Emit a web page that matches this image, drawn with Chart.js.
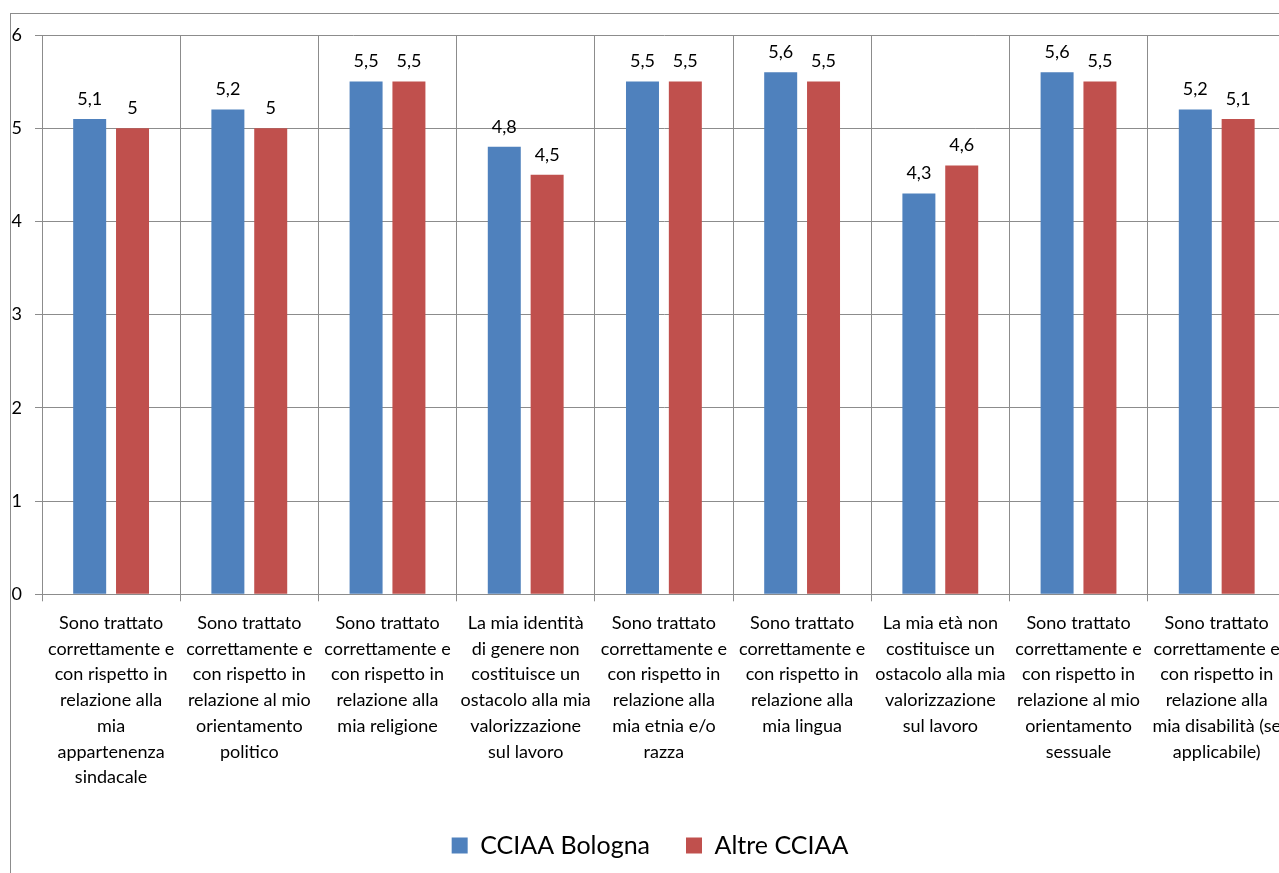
<!DOCTYPE html>
<html>
<head>
<meta charset="utf-8">
<script src="https://cdn.jsdelivr.net/npm/chart.js@4"></script>
<style>
  html, body { margin: 0; padding: 0; overflow: hidden; background: #fff; }
  #frame { position: absolute; left: 10px; top: 13px; width: 1400px; height: 1000px;
           border-left: 1px solid #8c8c8c; border-top: 1px solid #8c8c8c; }
  #wrap { position: absolute; left: 0; top: 0; width: 1290px; height: 873px; }
</style>
</head>
<body>
<div id="frame"></div>
<div id="wrap"><canvas id="chart"></canvas></div>
<script>
const categories = [
  ["Sono trattato", "correttamente e", "con rispetto in", "relazione alla", "mia", "appartenenza", "sindacale"],
  ["Sono trattato", "correttamente e", "con rispetto in", "relazione al mio", "orientamento", "politico"],
  ["Sono trattato", "correttamente e", "con rispetto in", "relazione alla", "mia religione"],
  ["La mia identità", "di genere non", "costituisce un", "ostacolo alla mia", "valorizzazione", "sul lavoro"],
  ["Sono trattato", "correttamente e", "con rispetto in", "relazione alla", "mia etnia e/o", "razza"],
  ["Sono trattato", "correttamente e", "con rispetto in", "relazione alla", "mia lingua"],
  ["La mia età non", "costituisce un", "ostacolo alla mia", "valorizzazione", "sul lavoro"],
  ["Sono trattato", "correttamente e", "con rispetto in", "relazione al mio", "orientamento", "sessuale"],
  ["Sono trattato", "correttamente e", "con rispetto in", "relazione alla", "mia disabilità (se", "applicabile)"]
];
const bologna = [5.1, 5.2, 5.5, 4.8, 5.5, 5.6, 4.3, 5.6, 5.2];
const altre = [5, 5, 5.5, 4.5, 5.5, 5.5, 4.6, 5.5, 5.1];
const yTicks = [0, 1, 2, 3, 4, 5, 6];

const FONT = "Lato";
const gridColor = "#8c8c8c";

// value labels above bars, italian decimal comma
const barLabels = {
  id: "barLabels",
  afterDatasetsDraw(chart) {
    const ctx = chart.ctx;
    ctx.save();
    ctx.font = "18px " + FONT;
    ctx.fillStyle = "#000";
    ctx.textAlign = "center";
    ctx.textBaseline = "middle";
    chart.data.datasets.forEach((ds, i) => {
      chart.getDatasetMeta(i).data.forEach((bar, j) => {
        ctx.fillText(String(ds.data[j]).replace(".", ","), bar.x, bar.y - 20);
      });
    });
    ctx.restore();
  }
};

new Chart(document.getElementById("chart"), {
  type: "bar",
  data: {
    labels: categories,
    datasets: [
      { label: "CCIAA Bologna", data: bologna, backgroundColor: "#4F81BD" },
      { label: "Altre CCIAA", data: altre, backgroundColor: "#C0504D" }
    ]
  },
  options: {
    responsive: true,
    maintainAspectRatio: false,
    animation: false,
    categoryPercentage: 0.62,
    barPercentage: 0.77,
    layout: { padding: { left: 10, right: 0, top: 35, bottom: 5 } },
    plugins: {
      tooltip: { enabled: false },
      legend: {
        position: "bottom",
        labels: {
          font: { family: FONT, size: 25 },
          color: "#000",
          boxWidth: 16,
          boxHeight: 16,
          padding: 36
        }
      }
    },
    scales: {
      x: {
        grid: { color: gridColor, offset: true, tickLength: 7 },
        border: { color: gridColor },
        ticks: {
          autoSkip: false,
          maxRotation: 0,
          padding: 9,
          color: "#000",
          font: { family: FONT, size: 18, lineHeight: 1.43 }
        },
        afterFit(scale) { scale.height = 202.7; }
      },
      y: {
        min: 0,
        max: 6,
        afterBuildTicks(scale) { scale.ticks = yTicks.map(v => ({ value: v })); },
        grid: { color: gridColor, tickLength: 7 },
        border: { color: gridColor },
        ticks: { padding: 13, color: "#000", font: { family: FONT, size: 18 } },
        afterFit(scale) { scale.width = 32; }
      }
    }
  },
  plugins: [barLabels]
});
</script>
</body>
</html>
